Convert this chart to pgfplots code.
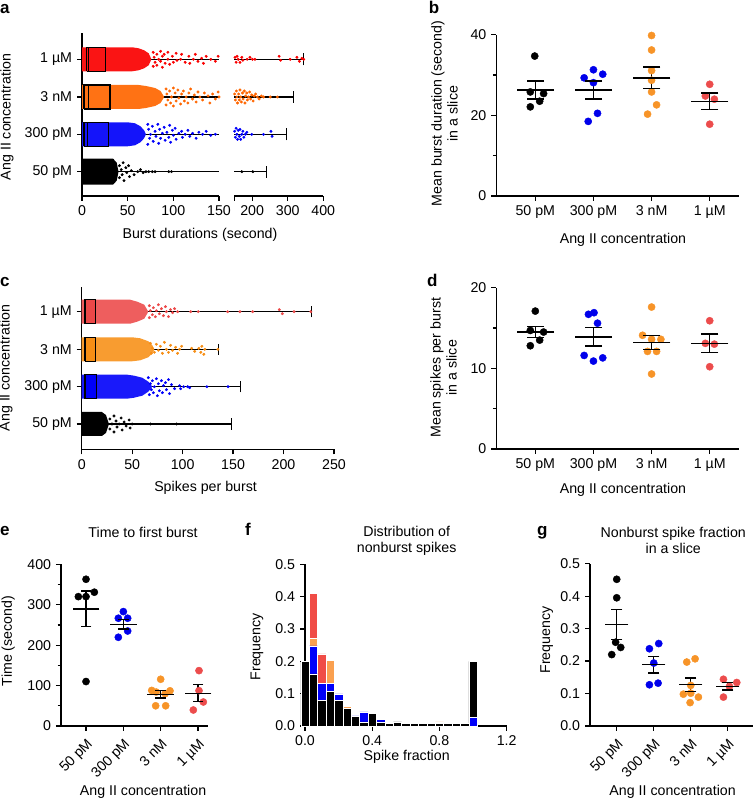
\documentclass[border=0pt]{standalone}
\usepackage{fontspec}
\setmainfont{Liberation Sans}
\usepackage{pgfplots}
\pgfplotsset{compat=1.18}
\definecolor{aRed}{RGB}{250,0,0}
\definecolor{aOrange}{RGB}{255,102,0}
\definecolor{aBlue}{RGB}{0,0,250}
\definecolor{cRed}{RGB}{236,72,72}
\definecolor{cOrange}{RGB}{247,142,20}
\definecolor{pBlue}{RGB}{0,0,235}
\definecolor{pOrange}{RGB}{247,148,40}
\definecolor{pRed}{RGB}{236,76,76}
\definecolor{fRed}{RGB}{240,76,70}
\definecolor{fOrange}{RGB}{250,160,80}
\newcommand\fs{\fontsize{14.2}{16}\selectfont}
\newcommand\lf{\fontsize{17}{17}\selectfont\bfseries}
\pgfplotsset{
 base/.style={scale only axis, anchor=south west, clip=false,
   axis x line*=bottom, axis y line*=left,
   axis line style={line width=1.2pt, black},
   tick style={line width=1.2pt, black}, tick align=outside,
   major tick length=5pt, minor tick length=3.5pt,
   tick label style={font=\fs}, label style={font=\fs},
   title style={font=\fs, align=center}},
 Dot/.style={only marks, mark=*, mark size=1.25pt},
 Big/.style={only marks, mark=*, mark size=3.6pt},
 W/.style={black, line width=1.2pt},
 Box/.style={draw=black, line width=1.2pt},
 Mean/.style={black, only marks, mark=-, mark options={line width=1.4pt}},
 Sem/.style={black, line width=1.4pt, unbounded coords=jump},
}
\begin{document}
\fs
\begin{tikzpicture}
\useasboundingbox (0pt,0pt) rectangle (754pt,802pt);

% ===== panel a (left part) =====
\begin{axis}[base, at={(82pt,606pt)}, width=137pt, height=163pt,
  xmin=0, xmax=150, ymin=0, ymax=163,
  xtick={0,50,100,150}, xticklabels={0,50,100,150},
  ytick={24.3,61.7,99,136.7}, yticklabels={50 pM,300 pM,3 nM,1 µM},
  xlabel={Burst durations (second)},
  xlabel style={at={(axis description cs:0.861,-0.239)},anchor=center},
  ylabel={Ang II concentration},
  ylabel style={at={(axis description cs:-0.547,0.485)},anchor=center}]
\addplot[W] coordinates {(0,136.7)(150,136.7)};
\addplot[W] coordinates {(0,99)(150,99)};
\addplot[W] coordinates {(0,61.7)(150,61.7)};
\addplot[W] coordinates {(0,24.3)(150,24.3)};
% 1 uM
\addplot[draw=none, fill=aRed!92] table[header=false,row sep=\\,y expr=\thisrowno{1}+136.7]{0 12\\55 12\\62 11\\68 9\\73 6\\76 0\\73 -6\\68 -9\\62 -11\\55 -12\\0 -12\\};
\addplot[Dot, aRed] table[header=false,row sep=\\,y expr=\thisrowno{1}+136.7]{78 7\\78 -7\\79 2\\80 -3\\82 5\\82 -6\\84 0\\86 8\\86 -2\\88 3\\88 -8\\90 5\\91 -4\\94 7\\94 0\\96 -5\\99 3\\100 -3\\103 6\\104 -1\\108 0\\109 5\\113 -3\\117 3\\118 -4\\122 0\\124 5\\127 -2\\131 1\\133 -4\\136 3\\141 0\\146 -2\\149 3\\};
% 3 nM
\addplot[draw=none, fill=aOrange!92] table[header=false,row sep=\\,y expr=\thisrowno{1}+99]{0 12\\62 12\\70 11\\80 9\\86 6\\90 0\\86 -6\\80 -9\\70 -11\\62 -12\\0 -12\\};
\addplot[Dot, aOrange] table[header=false,row sep=\\,y expr=\thisrowno{1}+99]{92 8\\92 -8\\93 3\\94 -3\\96 6\\97 -6\\98 0\\100 9\\100 -9\\102 4\\103 -4\\105 7\\106 -1\\108 -7\\109 3\\111 6\\112 -4\\114 0\\116 -6\\117 4\\119 8\\121 -2\\123 2\\125 -5\\127 5\\129 0\\132 -3\\134 4\\138 1\\140 -6\\143 3\\146 -2\\149 5\\150 0\\};
% 300 pM
\addplot[draw=none, fill=aBlue!92] table[header=false,row sep=\\,y expr=\thisrowno{1}+61.7]{0 12\\50 12\\58 11\\64 8\\68 4\\70 0\\68 -4\\64 -8\\58 -11\\50 -12\\0 -12\\};
\addplot[Dot, aBlue] table[header=false,row sep=\\,y expr=\thisrowno{1}+61.7]{72 10\\72 -10\\73 5\\74 -4\\75 0\\77 8\\78 -7\\80 3\\81 -2\\83 10\\84 -9\\85 5\\86 -4\\88 1\\90 7\\91 -6\\93 2\\95 -3\\96 9\\97 -8\\99 4\\100 -1\\102 6\\103 -5\\106 1\\109 3\\110 -3\\113 0\\116 4\\118 -2\\121 1\\125 -4\\128 2\\132 0\\136 3\\141 -1\\146 0\\};
% 50 pM
\addplot[draw=none, fill=black] table[header=false,row sep=\\,y expr=\thisrowno{1}+24.3]{0 13\\34 13\\38 9\\40 0\\38 -9\\34 -13\\0 -13\\};
\addplot[Dot, black] table[header=false,row sep=\\,y expr=\thisrowno{1}+24.3]{41 6\\41 -6\\43 2\\44 -3\\45 9\\46 -9\\48 4\\49 -1\\51 6\\52 -5\\54 1\\57 -3\\61 0\\64 2\\67 -1\\70 0\\73 0\\77 0\\80 0\\95 0\\98 0\\};
% boxes
\addplot[Box] coordinates {(5.1,124.7)(26,124.7)(26,148.7)(5.1,148.7)(5.1,124.7)};
\addplot[Box] coordinates {(6.9,124.7)(6.9,148.7)};
\addplot[Box] coordinates {(2.2,87)(30.7,87)(30.7,111)(2.2,111)(2.2,87)};
\addplot[Box] coordinates {(6.9,87)(6.9,111)};
\addplot[Box] coordinates {(2.2,49.7)(29.2,49.7)(29.2,73.7)(2.2,73.7)(2.2,49.7)};
\addplot[Box] coordinates {(6.2,49.7)(6.2,73.7)};
\addplot[Box] coordinates {(2.2,12.3)(34.3,12.3)(34.3,36.3)(2.2,36.3)(2.2,12.3)};
\end{axis}

% ===== panel a (right part) =====
\begin{axis}[base, axis y line=none, at={(234.3pt,606pt)}, width=89pt, height=163pt,
  xmin=150, xmax=400, ymin=0, ymax=163,
  xtick={150,200,300,400}, xticklabels={,200,300,400}]
\addplot[W] coordinates {(150,136.7)(345,136.7)};
\addplot[W] coordinates {(345,130.7)(345,142.7)};
\addplot[W] coordinates {(150,99)(317,99)};
\addplot[W] coordinates {(317,93)(317,105)};
\addplot[W] coordinates {(150,61.7)(296,61.7)};
\addplot[W] coordinates {(296,55.7)(296,67.7)};
\addplot[W] coordinates {(150,24.3)(241,24.3)};
\addplot[W] coordinates {(241,18.3)(241,30.3)};
\addplot[Dot, aRed] table[header=false,row sep=\\,y expr=\thisrowno{1}+136.7]{152 2\\155 -3\\158 3\\161 0\\166 -3\\171 2\\174 -1\\186 0\\194 2\\201 0\\208 0\\276 3\\280 -1\\307 0\\326 2\\333 -2\\340 1\\345 0\\};
\addplot[Dot, aOrange] table[header=false,row sep=\\,y expr=\thisrowno{1}+99]{151 3\\153 -3\\156 6\\157 0\\159 -6\\162 3\\164 -3\\166 7\\168 0\\170 -5\\173 4\\175 -2\\178 6\\180 -6\\182 1\\185 4\\187 -3\\190 0\\193 5\\196 -2\\199 2\\203 -4\\206 1\\210 3\\215 0\\220 -2\\226 1\\232 0\\251 0\\271 0\\};
\addplot[Dot, aBlue] table[header=false,row sep=\\,y expr=\thisrowno{1}+61.7]{151 3\\153 -3\\155 6\\157 0\\159 -5\\161 4\\164 -2\\166 5\\168 -5\\171 0\\174 3\\177 -3\\181 0\\185 2\\199 0\\232 0\\253 3\\256 -2\\};
\addplot[Dot, black] table[header=false,row sep=\\,y expr=\thisrowno{1}+24.3]{171 0\\202 0\\};
\end{axis}

% ===== panel b =====
\begin{axis}[base, at={(496.3pt,606pt)}, width=242.7pt, height=161.3pt,
  xmin=0.329, xmax=4.504, ymin=0, ymax=40,
  xtick={1,2,3,4}, xticklabels={50 pM,300 pM,3 nM,1 µM},
  ytick={0,20,40}, yticklabels={0,20,40}, minor ytick={10,30},
  xlabel={Ang II concentration},
  xlabel style={at={(axis description cs:0.522,-0.273)},anchor=center},
  ylabel={Mean burst duration (second)\\in a slice},
  ylabel style={align=center,at={(axis description cs:-0.213,0.511)},anchor=center}]
\addplot[Big, black] coordinates {(0.99,34.7)(0.914,25.8)(1.143,25.4)(1.075,23.5)(0.914,22.1)};
\addplot[Big, pBlue] coordinates {(1.84,29.3)(2,31.3)(2.16,30.2)(2,28.1)(2.07,20.5)(1.91,18.5)};
\addplot[Big, pOrange] coordinates {(3,39.8)(3,36.2)(3,31.1)(3,28.7)(3,25.8)(3.086,22.6)(2.931,20.3)};
\addplot[Big, pRed] coordinates {(4,27.7)(3.925,24.8)(4.08,24.0)(4,17.8)};
\addplot[Sem] coordinates {(1,24.1)(1,28.5)(1,nan)(2,24.1)(2,28.5)(2,nan)(3,26.65)(3,31.95)(3,nan)(4,21.5)(4,25.5)};
\addplot[Mean, mark size=8.7pt] coordinates {(1,24.1)(1,28.5)(2,24.1)(2,28.5)(3,26.65)(3,31.95)(4,21.5)(4,25.5)};
\addplot[Mean, mark size=18.7pt] coordinates {(1,26.3)(2,26.3)(3,29.3)(4,23.5)};
\end{axis}

% ===== panel c =====
\begin{axis}[base, at={(81.7pt,352.7pt)}, width=252.3pt, height=162.6pt,
  xmin=0, xmax=250, ymin=0, ymax=162.6,
  xtick={0,50,100,150,200,250}, xticklabels={0,50,100,150,200,250},
  ytick={25.3,62.6,100,137.6}, yticklabels={50 pM,300 pM,3 nM,1 µM},
  xlabel={Spikes per burst},
  xlabel style={at={(axis description cs:0.491,-0.240)},anchor=center},
  ylabel={Ang II concentration},
  ylabel style={at={(axis description cs:-0.300,0.5)},anchor=center}]
\addplot[W] coordinates {(0,137.6)(227.5,137.6)};
\addplot[W] coordinates {(227.5,132)(227.5,143.2)};
\addplot[W] coordinates {(0,100)(135.4,100)};
\addplot[W] coordinates {(135.4,94.4)(135.4,105.6)};
\addplot[W] coordinates {(0,62.6)(157.5,62.6)};
\addplot[W] coordinates {(157.5,57)(157.5,68.2)};
\addplot[W] coordinates {(0,25.3)(148.6,25.3)};
\addplot[W] coordinates {(148.6,19.7)(148.6,30.9)};
\addplot[draw=none, fill=cRed!88] table[header=false,row sep=\\,y expr=\thisrowno{1}+137.6]{0 12\\48 12\\55 10\\62 7\\66 0\\62 -7\\55 -10\\48 -12\\0 -12\\};
\addplot[Dot, cRed] table[header=false,row sep=\\,y expr=\thisrowno{1}+137.6]{67 6\\67 -6\\68 1\\70 -3\\71 4\\73 -5\\74 1\\76 7\\77 -2\\79 3\\81 -4\\83 5\\84 0\\86 -5\\88 2\\90 -1\\92 3\\95 0\\108 0\\115.5 0\\144.6 0\\156.8 0\\169.4 0\\195.8 2\\198.8 -2\\210.4 0\\227 0\\};
\addplot[draw=none, fill=cOrange!88] table[header=false,row sep=\\,y expr=\thisrowno{1}+100]{0 12\\50 12\\58 11\\66 8\\70 4\\72 0\\70 -4\\66 -8\\58 -11\\50 -12\\0 -12\\};
\addplot[Dot, cOrange] table[header=false,row sep=\\,y expr=\thisrowno{1}+100]{68 6\\69 -4\\70 1\\72 -3\\74 5\\76 -1\\78 3\\80 -4\\82 7\\84 0\\86 -3\\88 4\\90 -1\\93 2\\95 -4\\97 0\\99 3\\109 1\\112 -2\\116 1\\118 -3\\119 3\\121 -5\\122 0\\135 0\\};
\addplot[draw=none, fill=aBlue!90] table[header=false,row sep=\\,y expr=\thisrowno{1}+62.6]{0 12\\45 12\\52 11\\60 9\\66 5\\70 0\\66 -5\\60 -9\\52 -11\\45 -12\\0 -12\\};
\addplot[Dot, aBlue] table[header=false,row sep=\\,y expr=\thisrowno{1}+62.6]{66 9\\67 -8\\68 3\\69 -3\\70 6\\71 -6\\72 0\\74 8\\75 -9\\76 3\\77 -4\\79 6\\80 -6\\81 1\\83 4\\84 -3\\86 7\\87 -7\\89 2\\92 -2\\97 1\\98 -2\\101 0\\105 0\\107 -1\\124 0\\145 0\\};
\addplot[draw=none, fill=black] table[header=false,row sep=\\,y expr=\thisrowno{1}+25.3]{0 12\\20 12\\24 9\\27 0\\24 -9\\20 -12\\0 -12\\};
\addplot[Dot, black] table[header=false,row sep=\\,y expr=\thisrowno{1}+25.3]{28 5\\28 -5\\30 0\\32 8\\32 -8\\34 3\\35 -3\\37 0\\39 6\\40 -6\\42 2\\44 -2\\47 4\\48 -4\\50 0\\68 0\\94 0\\};
\addplot[Box, fill=cRed] coordinates {(3.3,125.6)(13.9,125.6)(13.9,149.6)(3.3,149.6)(3.3,125.6)};
\addplot[Box, fill=cOrange] coordinates {(3.3,88)(13.9,88)(13.9,112)(3.3,112)(3.3,88)};
\addplot[Box, fill=aBlue] coordinates {(3.3,50.6)(14.9,50.6)(14.9,74.6)(3.3,74.6)(3.3,50.6)};
\end{axis}

% ===== panel d =====
\begin{axis}[base, at={(496.3pt,353pt)}, width=242.7pt, height=161.3pt,
  xmin=0.329, xmax=4.504, ymin=0, ymax=20,
  xtick={1,2,3,4}, xticklabels={50 pM,300 pM,3 nM,1 µM},
  ytick={0,10,20}, yticklabels={0,10,20}, minor ytick={5,15},
  xlabel={Ang II concentration},
  xlabel style={at={(axis description cs:0.522,-0.254)},anchor=center},
  ylabel={Mean spikes per burst\\in a slice},
  ylabel style={align=center,at={(axis description cs:-0.217,0.504)},anchor=center}]
\addplot[Big, black] coordinates {(1,17.1)(0.914,14.7)(1.143,14.5)(1.075,13.5)(0.914,12.8)};
\addplot[Big, pBlue] coordinates {(1.914,16.7)(2.01,16.9)(2.07,15.6)(1.84,11.6)(2,10.9)(2.16,11.3)};
\addplot[Big, pOrange] coordinates {(3,17.6)(2.845,14.1)(3,13.6)(3.16,13.6)(2.93,12.1)(3.086,12.1)(3,9.3)};
\addplot[Big, pRed] coordinates {(4,15.9)(3.925,13.1)(4.08,13.0)(4,10.2)};
\addplot[Sem] coordinates {(1,13.8)(1,15.2)(1,nan)(2,12.75)(2,15.05)(2,nan)(3,12.3)(3,14.1)(3,nan)(4,11.95)(4,14.25)};
\addplot[Mean, mark size=8.7pt] coordinates {(1,13.8)(1,15.2)(2,12.75)(2,15.05)(3,12.3)(3,14.1)(4,11.95)(4,14.25)};
\addplot[Mean, mark size=18.7pt] coordinates {(1,14.5)(2,13.9)(3,13.2)(4,13.1)};
\end{axis}

% ===== panel e =====
\begin{axis}[base, at={(61pt,76pt)}, width=147.3pt, height=161.7pt,
  xmin=0.33, xmax=4.276, ymin=0, ymax=400,
  xtick={1,2,3,4}, xticklabels={50 pM,300 pM,3 nM,1 µM},
  xticklabel style={rotate=45, anchor=north east},
  ytick={0,100,200,300,400}, yticklabels={0,100,200,300,400},
  minor ytick={50,150,250,350},
  title={Time to first burst},
  title style={at={(axis description cs:0.557,1.163)},anchor=center},
  xlabel={Ang II concentration},
  xlabel style={at={(axis description cs:0.557,-0.406)},anchor=center},
  ylabel={Time (second)},
  ylabel style={at={(axis description cs:-0.358,0.526)},anchor=center}]
\addplot[Big, black] coordinates {(1,363)(0.795,320)(1,320)(1.223,331)(1,110)};
\addplot[Big, pBlue] coordinates {(2,283)(1.866,266.6)(2.116,266.6)(2.116,235)(1.866,219.5)};
\addplot[Big, pOrange] coordinates {(3,115.6)(2.76,88)(3.25,87)(2.88,84)(3.12,80)(2.866,50)(3.134,50)};
\addplot[Big, pRed] coordinates {(4.027,137)(4.027,87.4)(4.143,59.4)(3.875,39.6)};
\addplot[Sem] coordinates {(1,245.6)(1,333.6)(1,nan)(2,239.7)(2,263.7)(2,nan)(3,69.1)(3,87.9)(3,nan)(4,60)(4,102)};
\addplot[Mean, mark size=5.3pt] coordinates {(1,245.6)(1,333.6)(2,239.7)(2,263.7)(3,69.1)(3,87.9)(4,60)(4,102)};
\addplot[Mean, mark size=13.3pt] coordinates {(1,289.6)(2,251.7)(3,78.5)(4,81)};
\end{axis}

% ===== panel f =====
\begin{axis}[base, at={(305pt,76pt)}, width=201.7pt, height=161.7pt,
  xmin=0, xmax=1.2, ymin=0, ymax=0.5,
  xtick={0,0.4,0.8,1.2}, xticklabels={0.0,0.4,0.8,1.2},
  ytick={0,0.1,0.2,0.3,0.4,0.5}, yticklabels={0.0,0.1,0.2,0.3,0.4,0.5},
  title={Distribution of\\nonburst spikes},
  title style={at={(axis description cs:0.504,1.110)},anchor=center},
  xlabel={Spike fraction},
  xlabel style={at={(axis description cs:0.504,-0.190)},anchor=center},
  ylabel={Frequency},
  ylabel style={at={(axis description cs:-0.238,0.490)},anchor=center}]
\addplot[ybar, bar width=0.05, bar shift=0pt, fill=fRed, draw=white, line width=0.5pt] coordinates {(0.05,0.41)(0.10,0.223)(0.15,0.15)(0.70,0.011)};
\addplot[ybar, bar width=0.05, bar shift=0pt, fill=fOrange, draw=white, line width=0.5pt] coordinates {(0.05,0.271)(0.15,0.204)(0.25,0.060)(0.80,0.013)};
\addplot[ybar, bar width=0.05, bar shift=0pt, fill=aBlue, draw=white, line width=0.5pt] coordinates {(0.05,0.248)(0.10,0.132)(0.15,0.132)(0.20,0.099)(0.30,0.031)(0.35,0.044)(0.45,0.021)};
\addplot[ybar, bar width=0.05, bar shift=0pt, fill=black, draw=white, line width=0.5pt] coordinates {(0,0.2)(0.05,0.161)(0.10,0.080)(0.15,0.106)(0.20,0.080)(0.25,0.055)(0.30,0.029)(0.35,0.013)(0.40,0.039)(0.45,0.013)(0.50,0.008)(0.55,0.013)(0.60,0.008)(0.65,0.008)(0.70,0.008)(0.75,0.008)(0.80,0.008)(0.85,0.008)(0.90,0.008)(0.95,0.008)(1.00,0.2)};
\addplot[ybar, bar width=0.05, bar shift=0pt, fill=aBlue, draw=white, line width=0.5pt] coordinates {(1.00,0.028)};
\end{axis}

% ===== panel g =====
\begin{axis}[base, at={(590pt,76pt)}, width=163.3pt, height=162.3pt,
  xmin=0.278, xmax=4.69, ymin=0, ymax=0.5,
  xtick={1,2,3,4}, xticklabels={50 pM,300 pM,3 nM,1 µM},
  xticklabel style={rotate=45, anchor=north east},
  ytick={0,0.1,0.2,0.3,0.4,0.5}, yticklabels={0.0,0.1,0.2,0.3,0.4,0.5},
  title={Nonburst spike fraction\\in a slice},
  title style={at={(axis description cs:0.510,1.106)},anchor=center},
  xlabel={Ang II concentration},
  xlabel style={at={(axis description cs:0.506,-0.405)},anchor=center},
  ylabel={Frequency},
  ylabel style={at={(axis description cs:-0.265,0.530)},anchor=center}]
\addplot[Big, black] coordinates {(1,0.452)(1,0.395)(0.97,0.258)(1.108,0.242)(0.865,0.220)};
\addplot[Big, pBlue] coordinates {(1.883,0.238)(2.135,0.254)(2,0.194)(1.883,0.127)(2.117,0.132)};
\addplot[Big, pOrange] coordinates {(2.892,0.197)(3.117,0.207)(3,0.125)(2.8,0.098)(3,0.101)(3.207,0.089)(2.982,0.072)};
\addplot[Big, pRed] coordinates {(3.883,0.144)(4.243,0.134)(4.045,0.122)(3.883,0.089)};
\addplot[Sem] coordinates {(1,0.2665)(1,0.3595)(1,nan)(2,0.1635)(2,0.2145)(2,nan)(3,0.1065)(3,0.1475)(3,nan)(4,0.1105)(4,0.1335)};
\addplot[Mean, mark size=5.7pt] coordinates {(1,0.2665)(1,0.3595)(2,0.1635)(2,0.2145)(3,0.1065)(3,0.1475)(4,0.1105)(4,0.1335)};
\addplot[Mean, mark size=11.7pt] coordinates {(1,0.313)(2,0.189)(3,0.127)(4,0.122)};
\end{axis}

% panel letters
\node[anchor=base west, inner sep=0pt, font=\lf] at (0pt,788pt) {a};
\node[anchor=base west, inner sep=0pt, font=\lf] at (428.7pt,788pt) {b};
\node[anchor=base west, inner sep=0pt, font=\lf] at (0pt,515.3pt) {c};
\node[anchor=base west, inner sep=0pt, font=\lf] at (427pt,515.3pt) {d};
\node[anchor=base west, inner sep=0pt, font=\lf] at (0pt,266pt) {e};
\node[anchor=base west, inner sep=0pt, font=\lf] at (245pt,266pt) {f};
\node[anchor=base west, inner sep=0pt, font=\lf] at (537pt,266pt) {g};
\end{tikzpicture}
\end{document}
